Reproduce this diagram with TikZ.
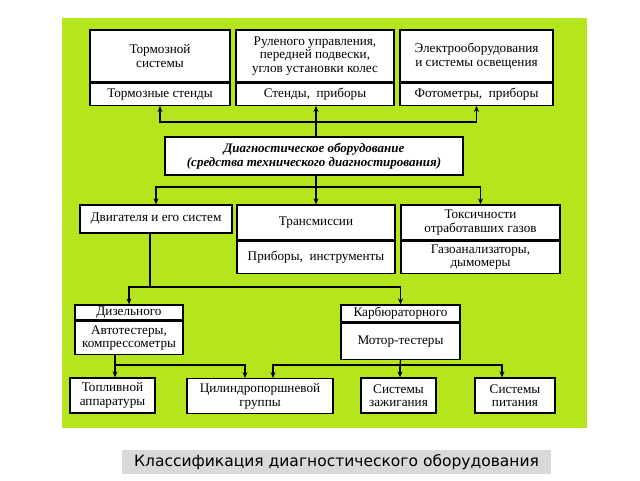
\documentclass[tikz,border=0pt]{standalone}
\usepackage{fontspec}
\setmainfont{Liberation Serif}
\newfontfamily\capfont{DejaVu Sans}
\usetikzlibrary{arrows.meta, positioning}
\definecolor{bggreen}{RGB}{181,230,29}
\definecolor{capgray}{RGB}{217,217,217}
\begin{document}
\begin{tikzpicture}[x=1pt, y=-1pt]
	\tikzset{box/.style = {rectangle, draw=black, line width=1.3pt, fill=white, align=center, inner sep=1pt, font=\fontsize{13.2}{13.5}\selectfont}}
	\tikzset{arrow/.style = {line width=1.2pt, -{Stealth[length=6pt, width=5pt]}}}
	\tikzset{line/.style = {line width=1.2pt}}
	\useasboundingbox (0,0) rectangle (640,480);
	\fill[white] (0,0) rectangle (640,480);
	\fill[bggreen] (62,18) rectangle (587,428);
	
	% top row
	\node (brake) [box, minimum width=140pt, minimum height=52pt] at (160,56) {Тормозной\\системы};
	\node (brakeF) [box, minimum width=140pt, minimum height=22pt, below = 0pt of brake] {Тормозные стенды};
	\node (steer) [box, minimum width=158pt, minimum height=52pt] at (315,56) {Руленого управления,\\передней подвески,\\углов установки колес};
	\node (steerF) [box, minimum width=158pt, minimum height=22pt, below = 0pt of steer] {Стенды, \ приборы};
	\node (elec) [box, minimum width=153pt, minimum height=52pt] at (476.5,56) {Электрооборудования\\и системы освещения};
	\node (elecF) [box, minimum width=153pt, minimum height=22pt, below = 0pt of elec] {Фотометры, \ приборы};
	
	% centre
	\node (diag) [box, minimum width=298pt, minimum height=38pt, font=\fontsize{13}{14.5}\selectfont\bfseries\itshape] at (314,156) {Диагностическое оборудование\\(средства технического диагностирования)};
	
	% second row
	\node (engine) [box, minimum width=152pt, minimum height=28pt] at (156,219) {Двигателя и его систем};
	\node (trans) [box, minimum width=158pt, minimum height=35pt] at (316,222.5) {Трансмиссии};
	\node (transF) [box, minimum width=158pt, minimum height=32pt, below = 0pt of trans] {Приборы, \ инструменты};
	\node (tox) [box, minimum width=159pt, minimum height=35pt] at (480.5,222.5) {Токсичности\\отработавших газов};
	\node (toxF) [box, minimum width=159pt, minimum height=32pt, below = 0pt of tox] {Газоанализаторы,\\дымомеры};
	
	% engine types
	\node (diesel) [box, minimum width=108pt, minimum height=15pt] at (129,312.5) {Дизельного};
	\node (dieselF) [box, minimum width=108pt, minimum height=33pt, below = 0pt of diesel] {Автотестеры,\\компрессометры};
	\node (carb) [box, minimum width=119pt, minimum height=17pt] at (400.5,313.5) {Карбюраторного};
	\node (carbF) [box, minimum width=119pt, minimum height=36pt, below = 0pt of carb] {Мотор-тестеры};
	
	% bottom row
	\node (fuel) [box, minimum width=85pt, minimum height=35pt] at (112.5,395.5) {Топливной\\аппаратуры};
	\node (cyl) [box, minimum width=146pt, minimum height=35pt, anchor=north] at (260,378) {Цилиндропоршневой\\группы};
	\node (ign) [box, minimum width=75pt, minimum height=35pt] at (398.5,395.5) {Системы\\зажигания};
	\node (feed) [box, minimum width=80pt, minimum height=35pt] at (515,395.5) {Системы\\питания};
	
	% junctions
	\coordinate (jTop) at (316,122);
	\coordinate (jMid) at (316,187);
	\coordinate (jEng) at (150,287);
	\coordinate (jDsl) at (115,365);
	\coordinate (jCrb) at (400,365);
	
	\draw[line] (diag.north -| jTop) -- (jTop);
	\draw[arrow] (jTop) -| (brakeF.south);
	\draw[arrow] (jTop) -- (steerF.south -| jTop);
	\draw[arrow] (jTop) -| (elecF.south);
	
	\draw[line] (diag.south -| jMid) -- (jMid);
	\draw[arrow] (jMid) -| (engine.north);
	\draw[arrow] (jMid) -- (trans.north -| jMid);
	\draw[arrow] (jMid) -| (tox.north);
	
	\draw[line] (engine.south -| jEng) -- (jEng);
	\draw[arrow] (jEng) -| (diesel.north);
	\draw[arrow] (jEng) -| (carb.north);
	
	\draw[line] (dieselF.south -| jDsl) -- (jDsl);
	\draw[arrow] (jDsl) -- (fuel.north -| jDsl);
	\draw[arrow] (jDsl) -| ([xshift=-15pt]cyl.north);
	\draw[line] (carbF.south) -- (jCrb);
	\draw[arrow] (jCrb) -| ([xshift=13pt]cyl.north);
	\draw[arrow] (jCrb) -- (ign.north -| jCrb);
	\draw[arrow] (jCrb) -| ([xshift=-13pt]feed.north);
	
	% caption
	\node (caption) [fill=capgray, minimum width=429pt, minimum height=24pt, font=\capfont\fontsize{15.5}{17}\selectfont] at (336.5,462) {Классификация диагностического оборудования};
\end{tikzpicture}
\end{document}
